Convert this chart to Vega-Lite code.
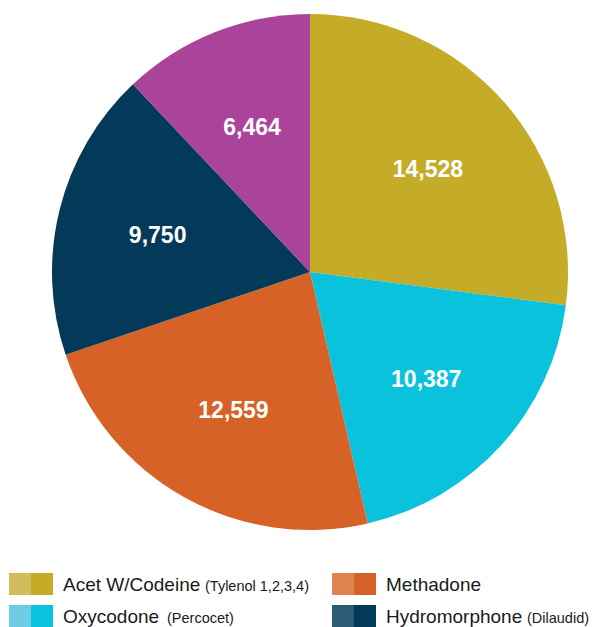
{
  "$schema": "https://vega.github.io/schema/vega-lite/v6.json",
  "padding": 0,
  "spacing": 0,
  "bounds": "flush",
  "background": "white",
  "config": {"view": {"stroke": null}, "font": "Liberation Sans"},
  "resolve": {"scale": {"color": "independent", "fill": "independent", "x": "independent", "y": "independent"}},
  "datasets": {
    "slices": [
      {"drug": "Acet W/Codeine", "count": 14528, "rank": 1},
      {"drug": "Oxycodone", "count": 10387, "rank": 2},
      {"drug": "Methadone", "count": 12559, "rank": 3},
      {"drug": "Hydromorphone", "count": 9750, "rank": 4},
      {"drug": "Other", "count": 6464, "rank": 5}
    ],
    "legend": [
      {"drug": "Acet W/Codeine", "note": "(Tylenol 1,2,3,4)"},
      {"drug": "Oxycodone", "note": "(Percocet)"},
      {"drug": "Methadone", "note": ""},
      {"drug": "Hydromorphone", "note": "(Dilaudid)"}
    ]
  },
  "vconcat": [
    {
      "width": 599,
      "height": 544,
      "data": {"name": "slices"},
      "encoding": {
        "theta": {"field": "count", "type": "quantitative", "stack": true},
        "order": {"field": "rank", "type": "quantitative"}
      },
      "layer": [
        {
          "mark": {"type": "arc", "outerRadius": 258, "xOffset": 10.5},
          "encoding": {
            "color": {
              "field": "drug",
              "type": "nominal",
              "scale": {
                "domain": ["Acet W/Codeine", "Oxycodone", "Methadone", "Hydromorphone", "Other"],
                "range": ["#C4AC29", "#0BC2DD", "#D66227", "#033A59", "#A9449A"]
              },
              "legend": null
            }
          }
        },
        {
          "mark": {"type": "text", "radius": 157, "xOffset": 10.5, "yOffset": 2, "fontSize": 23, "fontWeight": "bold", "font": "Liberation Sans", "baseline": "middle", "align": "center"},
          "encoding": {
            "detail": {"field": "drug", "type": "nominal"},
            "text": {"field": "count", "type": "quantitative", "format": ","},
            "color": {"value": "white"}
          }
        }
      ]
    },
    {
      "spacing": 0,
      "resolve": {"scale": {"color": "independent", "fill": "independent", "x": "independent", "y": "independent"}},
      "hconcat": [
        {
          "width": 323,
          "height": 83,
          "data": {"name": "legend"},
          "transform": [{"filter": {"field": "drug", "oneOf": ["Acet W/Codeine", "Oxycodone"]}}],
          "encoding": {
            "y": {"field": "drug", "type": "nominal", "scale": {"domain": ["Acet W/Codeine", "Oxycodone"], "range": [29, 83], "paddingInner": 0.3125, "paddingOuter": 0}, "axis": null}
          },
          "layer": [
            {
              "mark": {"type": "rect"},
              "encoding": {
                "x": {"datum": "light", "type": "nominal", "scale": {"domain": ["light", "dark"], "range": [9, 53], "paddingInner": 0, "paddingOuter": 0}, "axis": null},
                "color": {"field": "drug", "type": "nominal", "scale": {"domain": ["Acet W/Codeine", "Oxycodone", "Methadone", "Hydromorphone"], "range": ["#D2BD5E", "#6DCDE4", "#E0834F", "#2C5B76"]}, "legend": null}
              }
            },
            {
              "mark": {"type": "rect"},
              "encoding": {
                "x": {"datum": "dark", "type": "nominal", "axis": null},
                "fill": {"field": "drug", "type": "nominal", "scale": {"domain": ["Acet W/Codeine", "Oxycodone", "Methadone", "Hydromorphone"], "range": ["#C4AC29", "#0BC2DD", "#D66227", "#033A59"]}, "legend": null}
              }
            },
            {
              "mark": {"type": "text", "align": "left", "baseline": "alphabetic", "dx": 21, "dy": 6.5, "fontSize": 19, "color": "#1a1a1a"},
              "encoding": {
                "x": {"datum": "dark", "type": "nominal", "axis": null},
                "text": {"field": "drug"}
              }
            },
            {
              "transform": [{"filter": {"field": "drug", "equal": "Acet W/Codeine"}}],
              "mark": {"type": "text", "align": "left", "baseline": "alphabetic", "dx": 163, "dy": 6.5, "fontSize": 14.5, "color": "#1a1a1a"},
              "encoding": {
                "x": {"datum": "dark", "type": "nominal", "axis": null},
                "text": {"field": "note"}
              }
            },
            {
              "transform": [{"filter": {"field": "drug", "equal": "Oxycodone"}}],
              "mark": {"type": "text", "align": "left", "baseline": "alphabetic", "dx": 125, "dy": 6.5, "fontSize": 14.5, "color": "#1a1a1a"},
              "encoding": {
                "x": {"datum": "dark", "type": "nominal", "axis": null},
                "text": {"field": "note"}
              }
            }
          ]
        },
        {
          "width": 276,
          "height": 83,
          "data": {"name": "legend"},
          "transform": [{"filter": {"field": "drug", "oneOf": ["Methadone", "Hydromorphone"]}}],
          "encoding": {
            "y": {"field": "drug", "type": "nominal", "scale": {"domain": ["Methadone", "Hydromorphone"], "range": [29, 83], "paddingInner": 0.3125, "paddingOuter": 0}, "axis": null}
          },
          "layer": [
            {
              "mark": {"type": "rect"},
              "encoding": {
                "x": {"datum": "light", "type": "nominal", "scale": {"domain": ["light", "dark"], "range": [9, 53], "paddingInner": 0, "paddingOuter": 0}, "axis": null},
                "color": {"field": "drug", "type": "nominal", "scale": {"domain": ["Acet W/Codeine", "Oxycodone", "Methadone", "Hydromorphone"], "range": ["#D2BD5E", "#6DCDE4", "#E0834F", "#2C5B76"]}, "legend": null}
              }
            },
            {
              "mark": {"type": "rect"},
              "encoding": {
                "x": {"datum": "dark", "type": "nominal", "axis": null},
                "fill": {"field": "drug", "type": "nominal", "scale": {"domain": ["Acet W/Codeine", "Oxycodone", "Methadone", "Hydromorphone"], "range": ["#C4AC29", "#0BC2DD", "#D66227", "#033A59"]}, "legend": null}
              }
            },
            {
              "mark": {"type": "text", "align": "left", "baseline": "alphabetic", "dx": 21, "dy": 6.5, "fontSize": 19, "color": "#1a1a1a"},
              "encoding": {
                "x": {"datum": "dark", "type": "nominal", "axis": null},
                "text": {"field": "drug"}
              }
            },
            {
              "transform": [{"filter": {"field": "drug", "equal": "Hydromorphone"}}],
              "mark": {"type": "text", "align": "left", "baseline": "alphabetic", "dx": 162, "dy": 6.5, "fontSize": 14.5, "color": "#1a1a1a"},
              "encoding": {
                "x": {"datum": "dark", "type": "nominal", "axis": null},
                "text": {"field": "note"}
              }
            }
          ]
        }
      ]
    }
  ]
}
